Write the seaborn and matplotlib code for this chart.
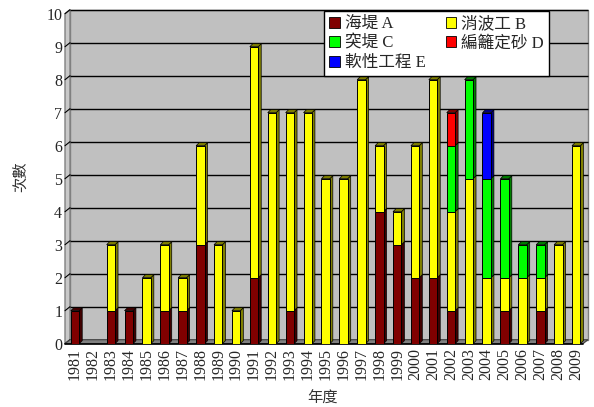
import numpy as np
import matplotlib
matplotlib.use("Agg")
import matplotlib.pyplot as plt
from matplotlib.patches import Polygon, Patch
import seaborn as sns

# ---- data ---------------------------------------------------------------
years = ["1981", "1982", "1983", "1984", "1985", "1986", "1987", "1988", "1989", "1990",
         "1991", "1992", "1993", "1994", "1995", "1996", "1997", "1998", "1999", "2000",
         "2001", "2002", "2003", "2004", "2005", "2006", "2007", "2008", "2009"]
seawall    = [1, 0, 1, 1, 0, 1, 1, 3, 0, 0, 2, 0, 1, 0, 0, 0, 0, 4, 3, 2, 2, 1, 0, 0, 1, 0, 1, 0, 0]
breakwater = [0, 0, 2, 0, 2, 2, 1, 3, 3, 1, 7, 7, 6, 7, 5, 5, 8, 2, 1, 4, 6, 3, 5, 2, 1, 2, 1, 3, 6]
groin      = [0, 0, 0, 0, 0, 0, 0, 0, 0, 0, 0, 0, 0, 0, 0, 0, 0, 0, 0, 0, 0, 2, 3, 3, 3, 1, 1, 0, 0]
sandfence  = [0, 0, 0, 0, 0, 0, 0, 0, 0, 0, 0, 0, 0, 0, 0, 0, 0, 0, 0, 0, 0, 1, 0, 0, 0, 0, 0, 0, 0]
soft_eng   = [0, 0, 0, 0, 0, 0, 0, 0, 0, 0, 0, 0, 0, 0, 0, 0, 0, 0, 0, 0, 0, 0, 0, 2, 0, 0, 0, 0, 0]
series_labels = ["海堤 A", "消波工 B", "突堤 C", "編籬定砂 D", "軟性工程 E"]
y_label = "次數"
x_label = "年度"

series = [seawall, breakwater, groin, sandfence, soft_eng]
face_colors = ["#800000", "#FFFF00", "#00FF00", "#FF0000", "#0000FF"]
shade_colors = ["#400000", "#808000", "#008000", "#800000", "#000080"]

sns.set_theme(style="white")
plt.rcParams["font.family"] = ["Liberation Serif", "Noto Sans CJK TC"]
cjk = ["Noto Sans CJK TC", "Liberation Serif"]

W, H = 594, 407
fig = plt.figure(figsize=(W / 100, H / 100), dpi=100)
fig.patch.set_facecolor("white")
front_left, front_right = 65, 583
front_bottom, front_top = 343.7, 13.7
ax = fig.add_axes([front_left / W, (H - front_bottom) / H,
                   (front_right - front_left) / W, (front_bottom - front_top) / H])
ax.patch.set_alpha(0)
for s in ax.spines.values():
    s.set_visible(False)

xmin, xmax = -0.56, 28.38
ymax = 10
ux = (xmax - xmin) / (front_right - front_left)   # data units per pixel, x
uy = ymax / (front_bottom - front_top)            # data units per pixel, y

# 3-D box: back wall, left wall, floor
wdx, wdy = 5 * ux, 4 * uy
ax.add_patch(Polygon([(xmin + wdx, wdy), (xmax + wdx, wdy), (xmax + wdx, ymax + wdy),
                      (xmin + wdx, ymax + wdy)], closed=True, facecolor="#C0C0C0",
                     edgecolor="#808080", lw=1, zorder=0, clip_on=False))
ax.add_patch(Polygon([(xmin, 0), (xmin + wdx, wdy), (xmin + wdx, ymax + wdy), (xmin, ymax)],
                     closed=True, facecolor="#C8C8C8", edgecolor="#808080", lw=1,
                     zorder=0.5, clip_on=False))
for i in range(0, ymax + 1):
    if i > 0:
        ax.plot([xmin + wdx, xmax + wdx], [i + wdy, i + wdy], color="black", lw=1,
                zorder=1, clip_on=False, solid_capstyle="butt")
    ax.plot([xmin, xmin + wdx], [i, i + wdy], color="black", lw=0.8, zorder=1.2, clip_on=False)
ax.add_patch(Polygon([(xmin, 0), (xmax, 0), (xmax + wdx, wdy), (xmin + wdx, wdy)],
                     closed=True, facecolor="#808080", edgecolor="#404040", lw=0.8,
                     zorder=1.5, clip_on=False))
ax.plot([xmin, xmax], [0, 0], color="black", lw=1.2, zorder=1.6, clip_on=False)

# stacked bars
bar_w = 0.47
bdx, bdy = 3 * ux, 3 * uy
years_arr = np.array(years)
bottom = np.zeros(len(years))
totals = np.sum(np.array(series), axis=0)
for vals, fc, sc in zip(series, face_colors, shade_colors):
    vals = np.array(vals, dtype=float)
    mask = vals > 0
    if mask.any():
        sns.barplot(x=years_arr[mask], y=vals[mask], order=years, bottom=bottom[mask],
                    color=fc, saturation=1, width=bar_w, errorbar=None,
                    edgecolor="black", linewidth=0.7, ax=ax, zorder=3)
        for i in np.where(mask)[0]:
            b, t = bottom[i], bottom[i] + vals[i]
            r = i + bar_w / 2
            ax.add_patch(Polygon([(r, b), (r + bdx, b + bdy), (r + bdx, t + bdy), (r, t)],
                                 closed=True, facecolor=sc, edgecolor="black", lw=0.5,
                                 zorder=2.9, clip_on=False))
            if t == totals[i]:
                l = i - bar_w / 2
                ax.add_patch(Polygon([(l, t), (r, t), (r + bdx, t + bdy), (l + bdx, t + bdy)],
                                     closed=True, facecolor=sc, edgecolor="black", lw=0.5,
                                     zorder=3.1, clip_on=False))
    bottom += vals

ax.set_xlim(xmin, xmax)
ax.set_ylim(0, ymax)
ax.set_xticks(range(len(years)))
ax.set_xticklabels(years, rotation=90, fontsize=11.5, va="top")
ax.set_yticks(range(0, ymax + 1))
ax.set_yticklabels([str(v) for v in range(0, ymax + 1)], fontsize=11.5)
ax.tick_params(axis="x", length=0, pad=3)
ax.tick_params(axis="y", length=0, pad=2)
ax.set_xlabel("")
ax.set_ylabel("")
ax.grid(False)

fig.text(20 / W, 1 - 177 / H, y_label, rotation=90, ha="center", va="center",
         fontsize=11, family=cjk, color="#333333")
fig.text(322 / W, 1 - 398 / H, x_label, ha="center", va="center",
         fontsize=11, family=cjk, color="#333333")

handles = [Patch(facecolor=c, edgecolor="black", linewidth=0.6) for c in face_colors]
order = [0, 2, 4, 1, 3]
leg = ax.legend([handles[k] for k in order], [series_labels[k] for k in order],
                ncol=2, loc="upper left", bbox_to_anchor=(324 / W, 1 - 11 / H),
                bbox_transform=fig.transFigure, borderaxespad=0, fontsize=12,
                handlelength=0.65, handleheight=0.65, handletextpad=0.3,
                labelspacing=0.22, columnspacing=1.2, borderpad=0.3,
                frameon=True, fancybox=False, framealpha=1)
leg.get_frame().set_edgecolor("black")
leg.get_frame().set_linewidth(1)
leg.set_zorder(10)

fig.savefig("out.png", dpi=100)
